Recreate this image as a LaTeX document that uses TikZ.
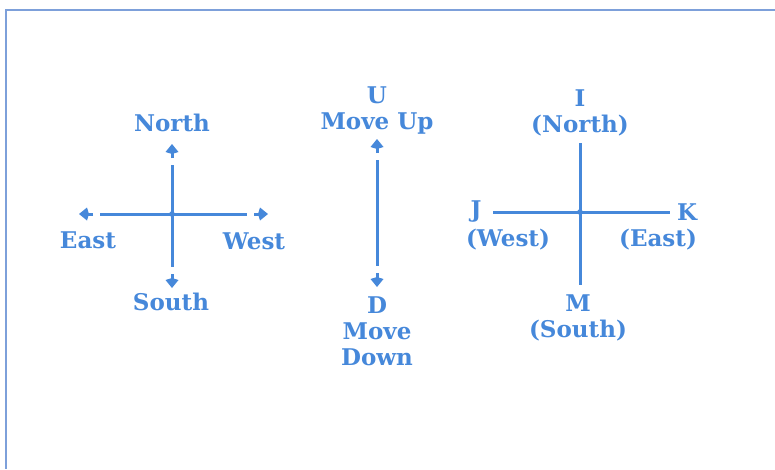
\documentclass[tikz,border=0pt]{standalone}
\usepackage{fontspec}
\setmainfont{DejaVu Serif}[BoldFont={DejaVu Serif Bold}]
\usepackage{tikz}
\usetikzlibrary{arrows.meta,positioning,calc}

\definecolor{inkblue}{RGB}{70,136,218}
\definecolor{frameblue}{RGB}{125,160,218}

\tikzset{
  lbl/.style={text=inkblue,font=\bfseries\fontsize{23}{26}\selectfont,align=center,inner sep=0pt},
  axis/.style={draw=inkblue,line width=3pt},
  tiphead/.style={axis,-{Kite[length=10pt,width=13pt,inset=2pt]}},
}
% arm from center #1 to tip #2: line, gap, short arrow
\newcommand{\arm}[2]{%
  \draw[axis,shorten >=21pt] (#1) -- (#2);
  \draw[tiphead] ($(#2)!14pt!(#1)$) -- (#2);
}

\begin{document}
\begin{tikzpicture}[x=1pt,y=-1pt,node distance=26pt,on grid]
   \useasboundingbox (0,0) rectangle (775,469);
   \draw[frameblue,line width=1.5pt] (775,10) -- (6,10) -- (6,469);
   % compass with arrows
   \coordinate (lc) at (172,214);
   \coordinate (lN) at (172,144);
   \coordinate (lS) at (172,288);
   \coordinate (lE) at (79,214);
   \coordinate (lW) at (268,214);
   \node[lbl] (north) at (172,123) {North};
   \node[lbl] (south) at (171,302) {South};
   \node[lbl] (east) at (88,240) {East};
   \node[lbl] (west) at (254,241) {West};
   \arm{lc}{lN}
   \arm{lc}{lS}
   \arm{lc}{lE}
   \arm{lc}{lW}
   \fill[inkblue] (lc) circle (2.8);
   % up and down
   \coordinate (mc) at (377,214);
   \coordinate (mU) at (377,139);
   \coordinate (mD) at (377,287);
   \node[lbl] (up) at (377,111) {U\\Move Up};
   \node[lbl] (down) at (377,331) {D\\Move\\Down};
   \arm{mc}{mU}
   \arm{mc}{mD}
   % letter keys
   \coordinate (rc) at (580,212);
   \coordinate (rI) at (580,143);
   \coordinate (rM) at (580,285);
   \coordinate (rJ) at (493,212);
   \coordinate (rK) at (670,212);
   \node[lbl] (keyI) at (580,113) {I\\(North)};
   \node[lbl] (keyM) at (578,318) {M\\(South)};
   \node[lbl] (keyJ) at (476,212) {J};
   \node[lbl] (keyW) [below right=28pt and 32pt of keyJ] {(West)};
   \node[lbl] (keyK) at (687,212) {K};
   \node[lbl] (keyE) [below left=28pt and 29pt of keyK] {(East)};
   \draw[axis] (rI) -- (rM);
   \draw[axis] (rJ) -- (rK);
   \fill[inkblue] (rc) circle (2.8);
\end{tikzpicture}
\end{document}
